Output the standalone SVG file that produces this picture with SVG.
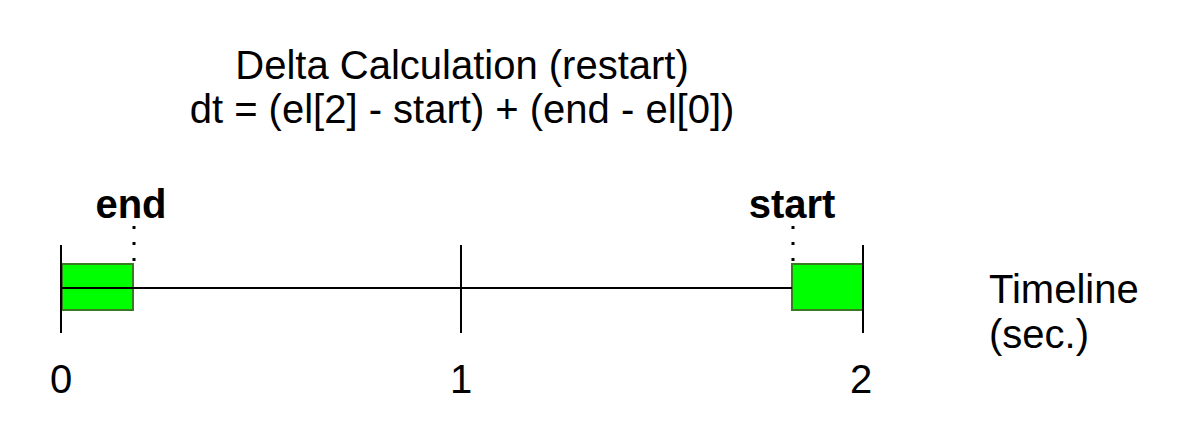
<svg xmlns="http://www.w3.org/2000/svg" width="1189" height="444" viewBox="0 0 1189 444">
<style>
text{font-family:"Liberation Sans",Arial,sans-serif;font-size:40px;fill:#000}
.b{font-weight:bold}
.tick{stroke:#000;stroke-width:2}
.seg{fill:#00FF00;stroke:#3A7A22;stroke-width:2}
.dot{stroke:#000;stroke-width:3;stroke-dasharray:3 13}
</style>
<rect width="1189" height="444" fill="#fff"/>
<g id="title">
<text x="462" y="79" text-anchor="middle">Delta Calculation (restart)</text>
<text x="462" y="123" text-anchor="middle">dt = (el[2] - start) + (end - el[0])</text>
</g>
<g id="seg-end"><rect class="seg" x="62" y="264" width="71" height="46"/></g>
<g id="seg-start"><rect class="seg" x="792" y="264" width="71" height="46"/></g>
<g id="connectors">
<line class="tick" x1="61" y1="288" x2="792" y2="288"/>
<line class="dot" x1="134" y1="226" x2="134" y2="263"/>
<line class="dot" x1="793" y1="226" x2="793" y2="263"/>
</g>
<g id="ticks">
<line class="tick" x1="61" y1="245" x2="61" y2="333"/>
<line class="tick" x1="461" y1="245" x2="461" y2="333"/>
<line class="tick" x1="863" y1="245" x2="863" y2="333"/>
</g>
<g id="label-end"><text class="b" x="131" y="218" text-anchor="middle">end</text></g>
<g id="label-start"><text class="b" x="792" y="218" text-anchor="middle">start</text></g>
<g id="axis-labels">
<text x="61" y="393" text-anchor="middle">0</text>
<text x="461" y="393" text-anchor="middle">1</text>
<text x="861" y="393" text-anchor="middle">2</text>
</g>
<g id="axis-title">
<text x="989" y="303">Timeline</text>
<text x="989" y="348">(sec.)</text>
</g>
</svg>
